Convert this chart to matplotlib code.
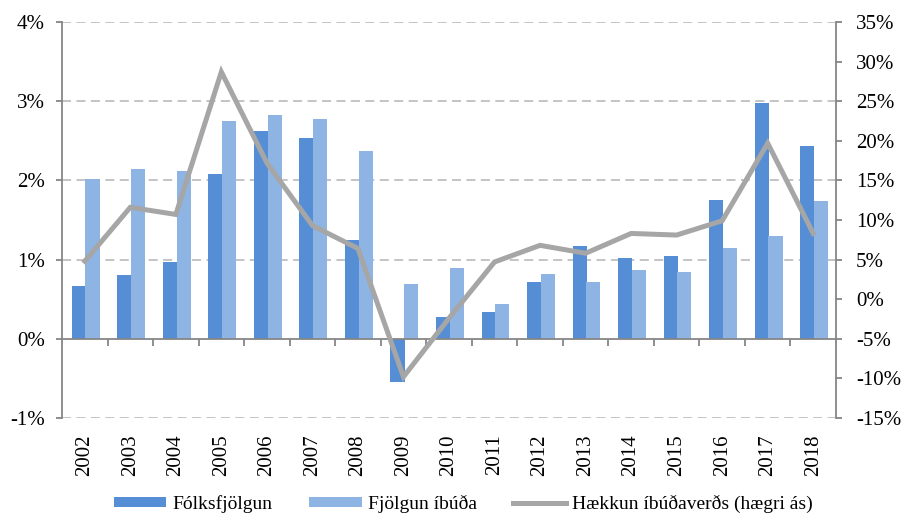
import numpy as np
import matplotlib
matplotlib.use("Agg")
import matplotlib.pyplot as plt
from matplotlib.ticker import FixedLocator

plt.rcParams['font.family'] = ['Liberation Serif', 'DejaVu Serif']
plt.rcParams['axes.unicode_minus'] = False

# Data
years = [str(y) for y in range(2002, 2019)]
folksfjolgun = [0.67, 0.80, 0.97, 2.08, 2.62, 2.54, 1.25, -0.54, 0.27,
                0.34, 0.72, 1.17, 1.02, 1.05, 1.75, 2.98, 2.44]
fjolgun_ibuda = [2.02, 2.14, 2.12, 2.75, 2.83, 2.78, 2.37, 0.69, 0.89,
                 0.44, 0.82, 0.72, 0.87, 0.84, 1.15, 1.30, 1.74]
haekkun_verds = [4.8, 11.6, 10.7, 28.7, 17.2, 9.3, 6.4, -9.8, -2.4,
                 4.7, 6.8, 5.8, 8.3, 8.1, 9.9, 19.7, 8.3]

left_ticks = [-1, 0, 1, 2, 3, 4]
right_ticks = list(range(-15, 40, 5))

dark_blue = '#558ED5'
light_blue = '#8EB4E3'
line_gray = '#A6A6A6'
axis_gray = '#868686'
grid_gray = '#BFBFBF'
fs = 15

fig = plt.figure(figsize=(9.03, 5.17), dpi=100)
ax = fig.add_axes([62 / 903, 1 - 418 / 517, (836 - 62) / 903, (418 - 22) / 517])

x = np.arange(len(years))
w = 0.31
b1 = ax.bar(x - 0.13, folksfjolgun, w, color=dark_blue, label='Fólksfjölgun', zorder=2)
b2 = ax.bar(x + 0.17, fjolgun_ibuda, w, color=light_blue, label='Fjölgun íbúða', zorder=2)

ax.set_xlim(-0.5, len(years) - 0.5)
ax.set_ylim(-1, 4)
ax.set_yticks(left_ticks)
ax.set_yticklabels([f'{t}%' for t in left_ticks], fontsize=fs)

# dashed gridlines except at zero
for t in left_ticks:
    if t != 0:
        ax.axhline(t, color=grid_gray, lw=1.3, ls=(0, (5, 3)), zorder=1)

for s in ['top', 'right']:
    ax.spines[s].set_visible(False)
ax.spines['left'].set_color(axis_gray)
ax.spines['left'].set_linewidth(1.3)
ax.spines['bottom'].set_position(('data', 0))
ax.spines['bottom'].set_color(axis_gray)
ax.spines['bottom'].set_linewidth(1.3)
ax.spines['bottom'].set_zorder(3)

ax.tick_params(axis='y', colors=axis_gray, labelcolor='black', length=4.5, width=1.3, pad=8)
ax.set_xticks(x)
ax.set_xticklabels(years, rotation=90, fontsize=fs, va='top')
ax.tick_params(axis='x', which='major', length=0, pad=69)
ax.xaxis.set_minor_locator(FixedLocator(x[:-1] + 0.5))
ax.tick_params(axis='x', which='minor', length=5, width=1.3, color=axis_gray, direction='out')

ax2 = ax.twinx()
l1, = ax2.plot(x, haekkun_verds, color=line_gray, lw=3.6, solid_joinstyle='miter',
               label='Hækkun íbúðaverðs (hægri ás)')
ax2.set_ylim(-15, 35)
ax2.set_yticks(right_ticks)
ax2.set_yticklabels([f'{t}%' for t in right_ticks], fontsize=fs)
for s in ['top', 'left', 'bottom']:
    ax2.spines[s].set_visible(False)
ax2.spines['right'].set_color(axis_gray)
ax2.spines['right'].set_linewidth(1.3)
ax2.tick_params(axis='y', colors=axis_gray, labelcolor='black', length=4.5, width=1.3, pad=10)

fig.legend(handles=[b1, b2, l1], loc='center', bbox_to_anchor=(0.513, 0.025),
           ncol=3, frameon=False, fontsize=14, handlelength=2.7, handleheight=0.45,
           handletextpad=0.3, columnspacing=1.9, borderaxespad=0, borderpad=0)

fig.savefig('out.png', dpi=100)
